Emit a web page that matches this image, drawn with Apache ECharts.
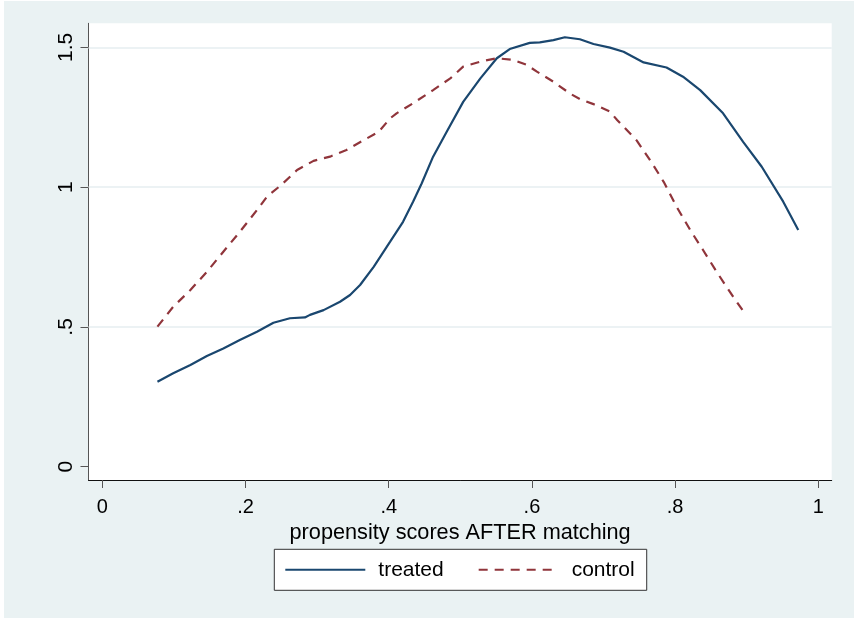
<!DOCTYPE html>
<html>
<head>
<meta charset="utf-8">
<script src="https://cdn.jsdelivr.net/npm/echarts@6/dist/echarts.min.js"></script>
<style>
html,body{margin:0;padding:0;background:#ffffff;}
#chart{position:absolute;left:4px;top:1px;width:850px;height:617px;}
</style>
</head>
<body>
<div id="chart"></div>
<script>
// ---- data ----
const seriesNames = ['treated', 'control'];

const treatedX = [0.077, 0.099, 0.123, 0.146, 0.169, 0.192, 0.216, 0.239, 0.262, 0.283, 0.290, 0.309, 0.332, 0.346, 0.360, 0.379, 0.402, 0.420, 0.434, 0.446, 0.462, 0.481, 0.504, 0.528, 0.551, 0.569, 0.597, 0.611, 0.630, 0.646, 0.667, 0.686, 0.709, 0.728, 0.756, 0.788, 0.811, 0.835, 0.867, 0.895, 0.921, 0.951, 0.972];
const treatedY = [0.304, 0.334, 0.364, 0.396, 0.423, 0.453, 0.483, 0.515, 0.531, 0.534, 0.543, 0.560, 0.590, 0.614, 0.650, 0.715, 0.805, 0.876, 0.948, 1.013, 1.109, 1.198, 1.305, 1.389, 1.461, 1.494, 1.516, 1.518, 1.526, 1.536, 1.529, 1.512, 1.499, 1.484, 1.446, 1.428, 1.395, 1.347, 1.264, 1.162, 1.073, 0.948, 0.847];

const controlX = [0.077, 0.099, 0.123, 0.146, 0.169, 0.192, 0.216, 0.230, 0.250, 0.272, 0.295, 0.318, 0.341, 0.365, 0.386, 0.402, 0.411, 0.434, 0.462, 0.486, 0.504, 0.528, 0.551, 0.574, 0.593, 0.607, 0.630, 0.653, 0.667, 0.686, 0.709, 0.719, 0.746, 0.765, 0.784, 0.802, 0.821, 0.839, 0.858, 0.881, 0.898];
const controlY = [0.501, 0.572, 0.632, 0.697, 0.769, 0.840, 0.918, 0.966, 1.008, 1.061, 1.094, 1.109, 1.133, 1.168, 1.198, 1.246, 1.264, 1.300, 1.347, 1.389, 1.431, 1.449, 1.461, 1.455, 1.437, 1.413, 1.377, 1.335, 1.315, 1.297, 1.270, 1.240, 1.168, 1.097, 1.019, 0.930, 0.847, 0.775, 0.697, 0.608, 0.546];

const xTickValues = [0, 0.2, 0.4, 0.6, 0.8, 1];
const xTickLabels = ['0', '.2', '.4', '.6', '.8', '1'];
const yTickValues = [0, 0.5, 1, 1.5];
const yTickLabels = ['0', '.5', '1', '1.5'];
const yGridValues = [0.5, 1, 1.5];

const xTitle = 'propensity scores AFTER matching';

// ---- build ----
function zip(xs, ys) { return xs.map((x, i) => [x, ys[i]]); }
function labelFor(vals, labels) {
  return function (v) {
    for (let i = 0; i < vals.length; i++) if (Math.abs(vals[i] - v) < 1e-6) return labels[i];
    return '';
  };
}

const FONT = 'Liberation Sans, Arial, sans-serif';
const chart = echarts.init(document.getElementById('chart'), null, { renderer: 'canvas' });

chart.setOption({
  backgroundColor: '#EAF2F3',
  animation: false,
  grid: {
    left: 84.5, right: 22.3, top: 22.3, bottom: 138,
    show: true, backgroundColor: '#ffffff', borderWidth: 0,
    containLabel: false
  },
  xAxis: {
    type: 'value',
    min: -0.0193, max: 1.0187,
    axisLine: { show: true, onZero: false, lineStyle: { color: '#111', width: 1 } },
    axisTick: { show: true, length: 8, customValues: xTickValues, lineStyle: { color: '#555' } },
    axisLabel: {
      customValues: xTickValues, formatter: labelFor(xTickValues, xTickLabels),
      fontFamily: FONT, fontSize: 20, color: '#000', margin: 17
    },
    splitLine: { show: false },
    name: xTitle, nameLocation: 'middle', nameGap: 29,
    nameTextStyle: { fontFamily: FONT, fontSize: 21.7, color: '#000' }
  },
  yAxis: {
    type: 'value',
    min: -0.0476, max: 1.586,
    axisLine: { show: true, onZero: false, lineStyle: { color: '#555', width: 1 } },
    axisTick: { show: true, length: 8, customValues: yTickValues, lineStyle: { color: '#555' } },
    axisLabel: {
      customValues: yTickValues, formatter: labelFor(yTickValues, yTickLabels),
      rotate: 90, fontFamily: FONT, fontSize: 21, color: '#000', margin: 12
    },
    splitLine: { show: false }
  },
  legend: {
    data: seriesNames,
    left: 270.3, top: 548.3,
    orient: 'horizontal',
    backgroundColor: '#ffffff',
    borderColor: '#333', borderWidth: 1, borderRadius: 0,
    padding: [10, 12, 10, 10],
    itemWidth: 80, itemHeight: 20, itemGap: 34,
    itemStyle: { opacity: 0 },
    textStyle: { fontFamily: FONT, fontSize: 21, color: '#000', padding: [0, 0, 0, 8] }
  },
  series: [
    {
      name: seriesNames[0], type: 'line', data: zip(treatedX, treatedY),
      symbol: 'none', smooth: false, z: 3,
      lineStyle: { color: '#1A476F', width: 2.2 },
      itemStyle: { color: '#1A476F' },
      markLine: {
        silent: true, symbol: 'none', z: 1,
        label: { show: false },
        lineStyle: { color: '#E6EEF0', width: 1.6, type: 'solid' },
        data: yGridValues.map(v => ({ yAxis: v }))
      }
    },
    {
      name: seriesNames[1], type: 'line', data: zip(controlX, controlY),
      symbol: 'none', smooth: false, z: 3,
      lineStyle: { color: '#90353B', width: 2.2, type: [9, 7] },
      itemStyle: { color: '#90353B' }
    }
  ]
});
</script>
</body>
</html>
